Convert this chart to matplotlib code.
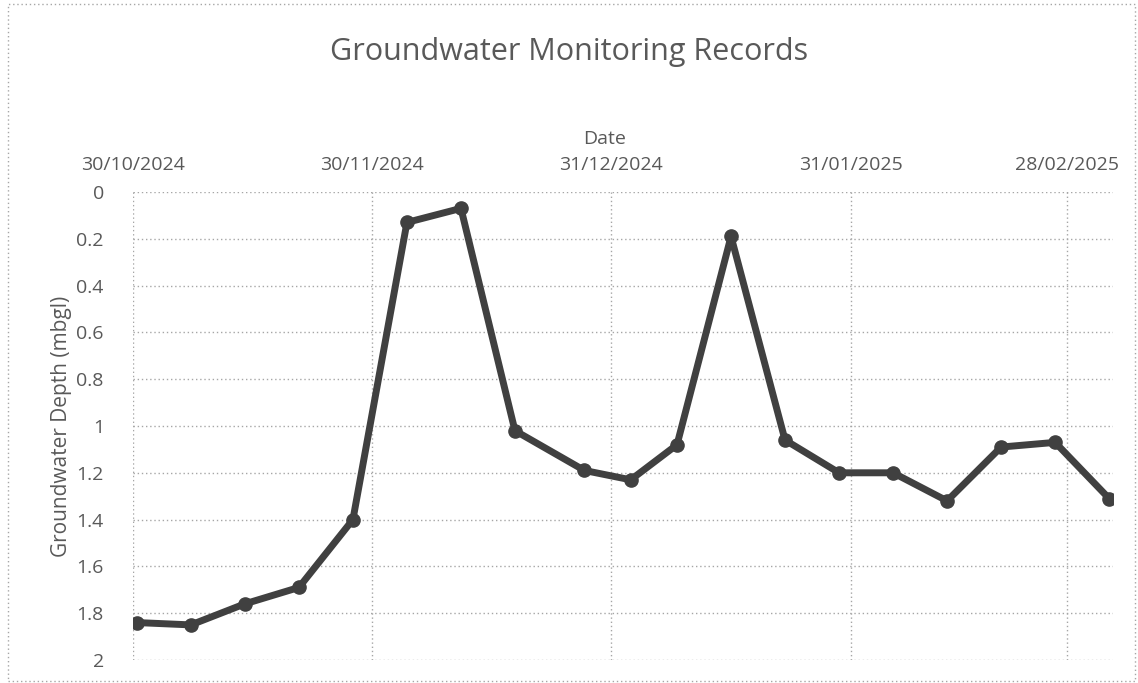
import matplotlib
matplotlib.use("Agg")
import matplotlib.pyplot as plt
import matplotlib.dates as mdates
import pandas as pd
from matplotlib.patches import Rectangle

# sample dates and depths (m below ground level)
dates = pd.to_datetime([
    "2024-10-30", "2024-11-06", "2024-11-13", "2024-11-20", "2024-11-27",
    "2024-12-04", "2024-12-11", "2024-12-18", "2024-12-27", "2025-01-02",
    "2025-01-08", "2025-01-15", "2025-01-22", "2025-01-29", "2025-02-05",
    "2025-02-12", "2025-02-19", "2025-02-26", "2025-03-05",
])
depth = [1.84, 1.85, 1.76, 1.69, 1.40, 0.13, 0.07, 1.02, 1.19, 1.23,
         1.08, 0.19, 1.06, 1.20, 1.20, 1.32, 1.09, 1.07, 1.31]
tick_dates = pd.to_datetime(["2024-10-30", "2024-11-30", "2024-12-31",
                             "2025-01-31", "2025-02-28"])
x_min, x_max = pd.Timestamp("2024-10-30"), pd.Timestamp("2025-03-06")
y_ticks = [0, 0.2, 0.4, 0.6, 0.8, 1, 1.2, 1.4, 1.6, 1.8, 2]
y_labels = ["0", "0.2", "0.4", "0.6", "0.8", "1", "1.2", "1.4", "1.6", "1.8", "2"]

plt.rcParams["font.family"] = ["Open Sans", "DejaVu Sans"]
txt = "#595959"
grid = "#a6a6a6"

fig = plt.figure(figsize=(11.38, 6.83), dpi=100)
ax = fig.add_axes([133/1138, 1 - 660/683, 980/1138, 468/683])

# Excel date axis puts points mid-day (between tick marks)
x = dates + pd.Timedelta(hours=12)
ax.plot(x, depth, "-o", color="#404040", lw=5, ms=9.5, solid_joinstyle="round",
        solid_capstyle="round", zorder=3)

ax.set_xlim(x_min, x_max)
ax.set_ylim(2, 0)
ax.set_yticks(y_ticks)
ax.set_yticklabels(y_labels)
ax.set_xticks(tick_dates)
ax.xaxis.set_major_formatter(mdates.DateFormatter("%d/%m/%Y"))
ax.xaxis.tick_top()
ax.xaxis.set_label_position("top")
ax.tick_params(length=0, labelsize=14, labelcolor=txt)
ax.tick_params(axis="y", pad=21)
ax.tick_params(axis="x", pad=13)
for s in ax.spines.values():
    s.set_visible(False)
ax.grid(True, color=grid, ls=(0, (1, 2)), lw=1)

ax.set_xlabel("Date", fontsize=14, color=txt)
ax.xaxis.set_label_coords((605 - 133) / 980, (660 - 144) / 468)
ax.set_ylabel("Groundwater Depth (mbgl)", fontsize=15, color=txt, labelpad=3)
fig.text(0.5, 1 - 52/683, "Groundwater Monitoring Records", ha="center",
         va="center", fontsize=22, color=txt)

fig.patches.append(Rectangle((8/1138, 2/683), 1127/1138, 677/683,
                             transform=fig.transFigure, fill=False,
                             ec=grid, ls=(0, (1, 2)), lw=1))

fig.savefig("out.png", dpi=100)
